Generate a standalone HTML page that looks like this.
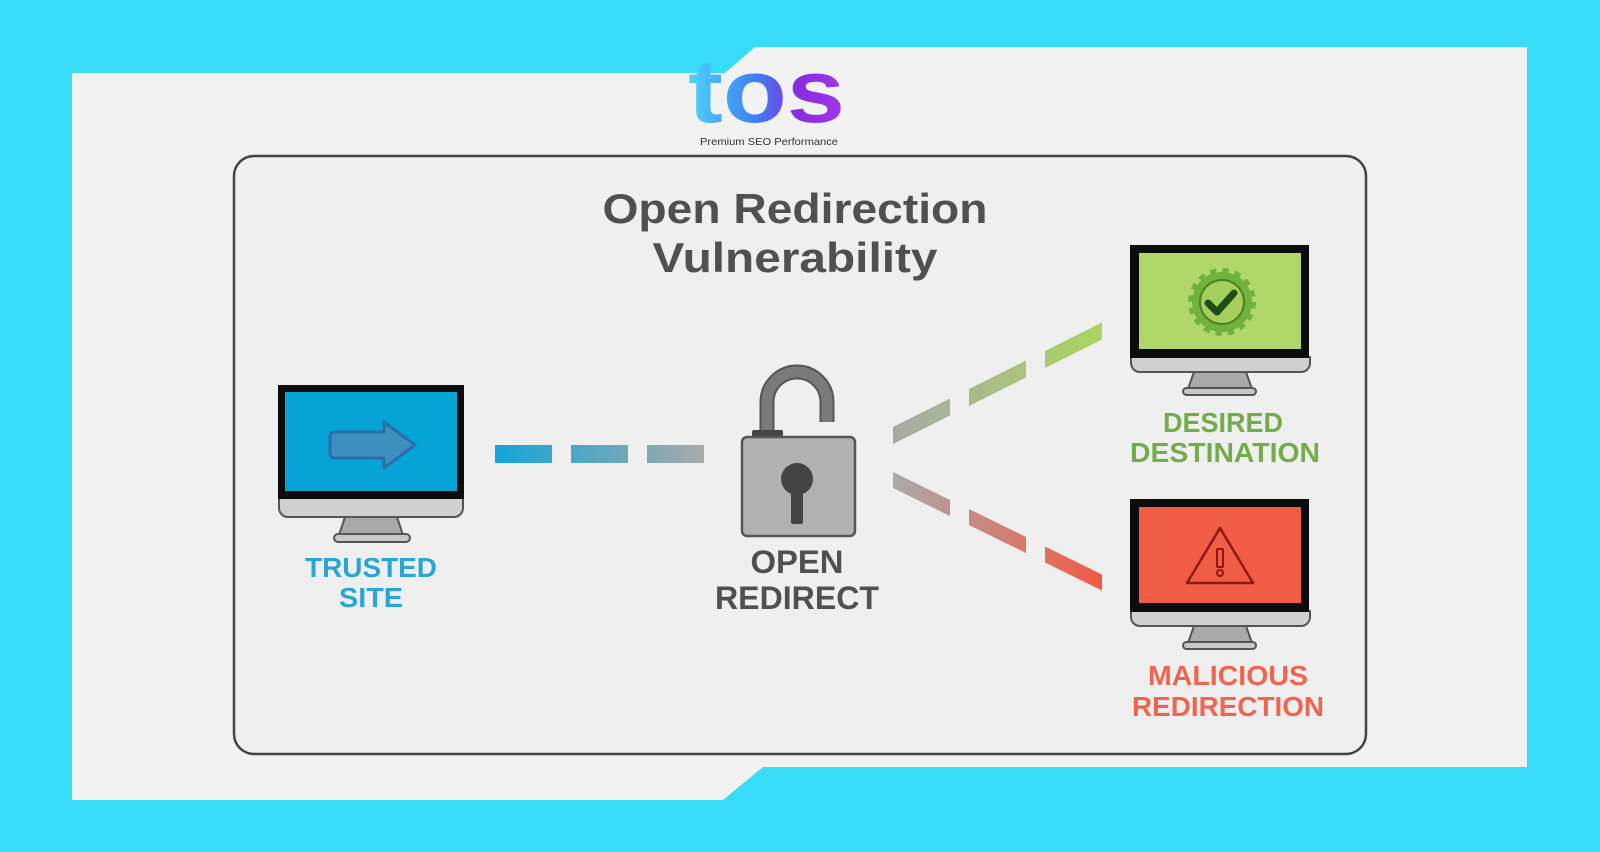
<!DOCTYPE html>
<html><head><meta charset="utf-8"><style>
html,body{margin:0;padding:0;width:1600px;height:852px;overflow:hidden;background:#38dbf8}
svg{display:block}
text{font-family:"Liberation Sans",sans-serif;font-weight:bold}
</style></head><body>
<svg width="1600" height="852" viewBox="0 0 1600 852" xmlns="http://www.w3.org/2000/svg">
<defs>
<linearGradient id="gL" x1="495" y1="0" x2="704" y2="0" gradientUnits="userSpaceOnUse"><stop offset="0" stop-color="#12a5d8"/><stop offset="1" stop-color="#a9a9a9"/></linearGradient>
<linearGradient id="gU" x1="893" y1="0" x2="1102" y2="0" gradientUnits="userSpaceOnUse"><stop offset="0" stop-color="#a8a8a8"/><stop offset="1" stop-color="#abd65e"/></linearGradient>
<linearGradient id="gD" x1="893" y1="0" x2="1102" y2="0" gradientUnits="userSpaceOnUse"><stop offset="0" stop-color="#aaaaaa"/><stop offset="1" stop-color="#f25a43"/></linearGradient>
<linearGradient id="gLogo" x1="688" y1="0" x2="845" y2="0" gradientUnits="userSpaceOnUse"><stop offset="0" stop-color="#4fd3fb"/><stop offset="0.45" stop-color="#3f7cf2"/><stop offset="0.7" stop-color="#8a2be2"/><stop offset="1" stop-color="#a238e8"/></linearGradient>
</defs>
<polygon points="72,73 725,73 755,47 1527,47 1527,767 763,767 723,800 72,800" fill="#f2f2f2"/>
<rect x="234" y="156" width="1132" height="598" rx="20" fill="#efefef" stroke="#444" stroke-width="2.5"/>
<!-- logo -->
<text x="688" y="122" font-size="90" fill="url(#gLogo)" textLength="157" lengthAdjust="spacingAndGlyphs">tos</text>
<text x="700" y="145" font-size="10" fill="#333" textLength="138" lengthAdjust="spacingAndGlyphs" style="font-weight:normal">Premium SEO Performance</text>
<!-- title -->
<text x="795" y="223" font-size="42" fill="#505050" text-anchor="middle" textLength="385" lengthAdjust="spacingAndGlyphs">Open Redirection</text>
<text x="795" y="272" font-size="42" fill="#505050" text-anchor="middle" textLength="285" lengthAdjust="spacingAndGlyphs">Vulnerability</text>
<!-- left monitor -->
<g>
<path d="M279,498 h184 v10 a9,9 0 0 1 -9,9 h-166 a9,9 0 0 1 -9,-9 z" fill="#d0d0d0" stroke="#555" stroke-width="2"/>
<rect x="278" y="385" width="186" height="114" fill="#0c0c0c"/>
<rect x="285" y="392" width="172" height="99" fill="#05a3d6"/>
<polygon points="345,517 397,517 403,535 339,535" fill="#a9a9a9" stroke="#555" stroke-width="2"/>
<rect x="334" y="534" width="76" height="8" rx="4" fill="#c8c8c8" stroke="#555" stroke-width="2"/>
<path d="M334,432 h50 v-10 l31,23 l-31,23 v-10 h-50 a4,4 0 0 1 -4,-4 v-18 a4,4 0 0 1 4,-4z" fill="#3d8fbf" stroke="#2a6fa8" stroke-width="3" stroke-linejoin="round"/>
</g>
<text x="371" y="577" font-size="28" fill="#2aa6d6" text-anchor="middle" textLength="132" lengthAdjust="spacingAndGlyphs">TRUSTED</text>
<text x="371" y="607" font-size="28" fill="#2aa6d6" text-anchor="middle" textLength="64" lengthAdjust="spacingAndGlyphs">SITE</text>
<!-- left dashes -->
<rect x="495" y="445" width="57" height="18" fill="url(#gL)"/>
<rect x="571" y="445" width="57" height="18" fill="url(#gL)"/>
<rect x="647" y="445" width="57" height="18" fill="url(#gL)"/>
<!-- lock -->
<path d="M767,430 V402 a30,30 0 0 1 60,0 V422" fill="none" stroke="#555" stroke-width="15"/>
<path d="M767,430 V402 a30,30 0 0 1 60,0 V422" fill="none" stroke="#7a7a7a" stroke-width="11"/>
<rect x="752" y="430" width="31" height="9" rx="2" fill="#444"/>
<rect x="742" y="437" width="113" height="99" rx="5" fill="#b1b1b1" stroke="#555" stroke-width="2.5"/>
<circle cx="797" cy="479" r="16" fill="#444"/>
<rect x="791" y="485" width="12" height="39" rx="2" fill="#444"/>
<text x="797" y="573" font-size="32" fill="#505050" text-anchor="middle" textLength="93" lengthAdjust="spacingAndGlyphs">OPEN</text>
<text x="797" y="609" font-size="32" fill="#505050" text-anchor="middle" textLength="164" lengthAdjust="spacingAndGlyphs">REDIRECT</text>
<!-- upper dashes: top y = 427 - 0.5(x-893) -->
<polygon points="893,427 950,398.5 950,415.5 893,444" fill="url(#gU)"/>
<polygon points="969,389 1026,360.5 1026,377.5 969,406" fill="url(#gU)"/>
<polygon points="1045,351 1102,322.5 1102,339.5 1045,368" fill="url(#gU)"/>
<!-- lower dashes: top y = 472 + 0.49(x-893) -->
<polygon points="893,472 950,500 950,516 893,488" fill="url(#gD)"/>
<polygon points="969,509 1026,537 1026,553 969,525" fill="url(#gD)"/>
<polygon points="1045,546.5 1102,574.5 1102,590.5 1045,562.5" fill="url(#gD)"/>
<!-- top right monitor -->
<g>
<path d="M1131,357 h179 v6 a9,9 0 0 1 -9,9 h-161 a9,9 0 0 1 -9,-9 z" fill="#d0d0d0" stroke="#555" stroke-width="2"/>
<rect x="1130" y="245" width="179" height="113" fill="#0c0c0c"/>
<rect x="1139" y="253" width="162" height="96" fill="#b1d66a"/>
<polygon points="1194,372 1246,372 1252,389 1188,389" fill="#a9a9a9" stroke="#555" stroke-width="2"/>
<rect x="1183" y="388" width="73" height="7" rx="3.5" fill="#c8c8c8" stroke="#555" stroke-width="2"/>
<circle cx="1222" cy="302" r="30" fill="#6fb33f" stroke="#6fb33f" stroke-width="8" stroke-dasharray="6 5.8"/>
<circle cx="1222" cy="302" r="29" fill="#6fb33f"/>
<circle cx="1222" cy="302" r="22" fill="#a5cf5c" stroke="#4e7e25" stroke-width="2"/>
<path d="M1208,303 l9,9 l17,-19" fill="none" stroke="#1f4d17" stroke-width="7" stroke-linecap="round" stroke-linejoin="round"/>
</g>
<text x="1223" y="432" font-size="28" fill="#73ad4a" text-anchor="middle" textLength="120" lengthAdjust="spacingAndGlyphs">DESIRED</text>
<text x="1225" y="462" font-size="28" fill="#73ad4a" text-anchor="middle" textLength="190" lengthAdjust="spacingAndGlyphs">DESTINATION</text>
<!-- bottom right monitor -->
<g>
<path d="M1131,611 h179 v6 a9,9 0 0 1 -9,9 h-161 a9,9 0 0 1 -9,-9 z" fill="#d0d0d0" stroke="#555" stroke-width="2"/>
<rect x="1130" y="499" width="179" height="113" fill="#0c0c0c"/>
<rect x="1139" y="507" width="162" height="96" fill="#f05c45"/>
<polygon points="1194,626 1246,626 1252,643 1188,643" fill="#a9a9a9" stroke="#555" stroke-width="2"/>
<rect x="1183" y="642" width="73" height="7" rx="3.5" fill="#c8c8c8" stroke="#555" stroke-width="2"/>
<polygon points="1220,528 1253,583 1187,583" fill="none" stroke="#8a1a10" stroke-width="2.5" stroke-linejoin="round"/>
<rect x="1217" y="549" width="6" height="18" rx="1" fill="none" stroke="#8a1a10" stroke-width="2"/>
<circle cx="1220" cy="573" r="3" fill="none" stroke="#8a1a10" stroke-width="2"/>
</g>
<text x="1228" y="685" font-size="28" fill="#ef6650" text-anchor="middle" textLength="160" lengthAdjust="spacingAndGlyphs">MALICIOUS</text>
<text x="1228" y="716" font-size="28" fill="#ef6650" text-anchor="middle" textLength="192" lengthAdjust="spacingAndGlyphs">REDIRECTION</text>
</svg>
</body></html>
